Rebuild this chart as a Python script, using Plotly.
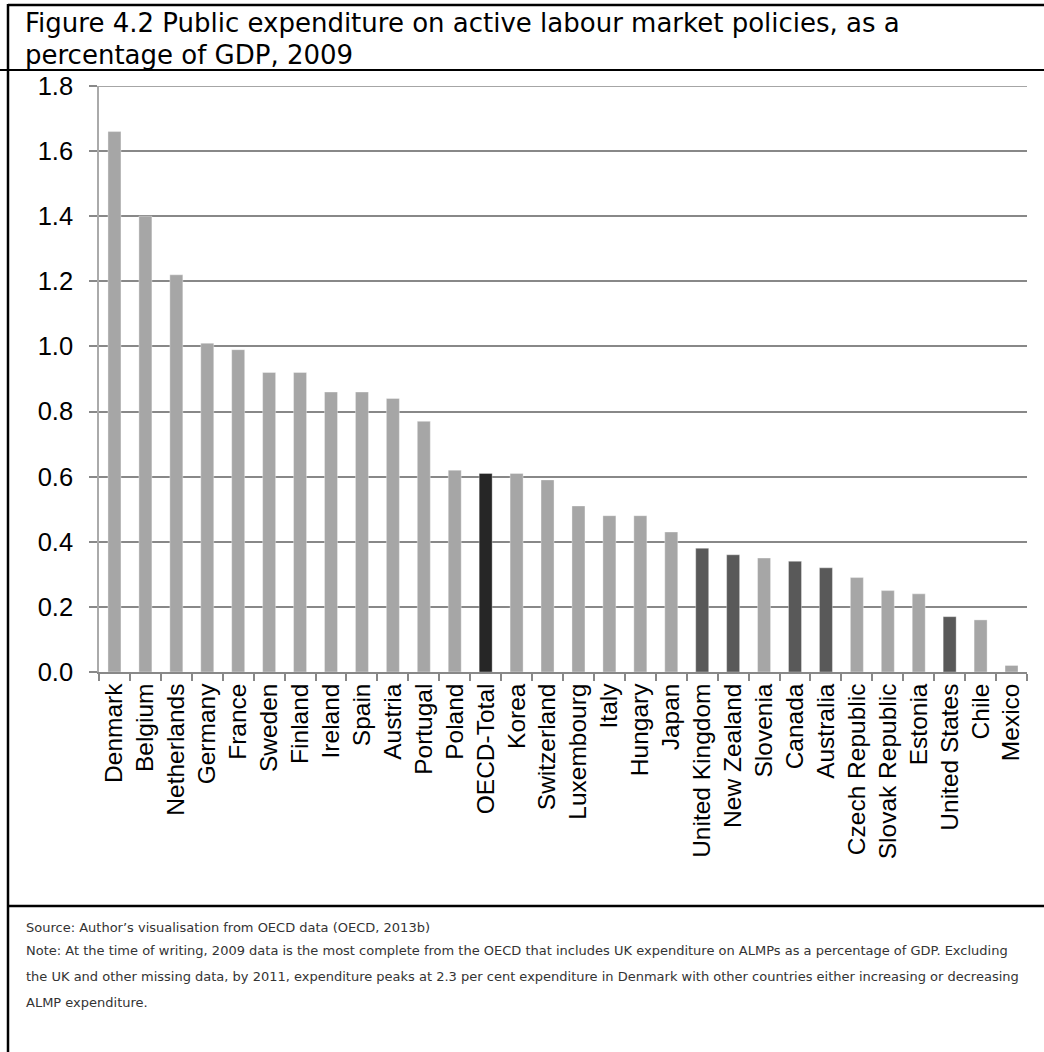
import plotly.graph_objects as go

countries = ["Denmark", "Belgium", "Netherlands", "Germany", "France", "Sweden", "Finland",
             "Ireland", "Spain", "Austria", "Portugal", "Poland", "OECD-Total", "Korea",
             "Switzerland", "Luxembourg", "Italy", "Hungary", "Japan", "United Kingdom",
             "New Zealand", "Slovenia", "Canada", "Australia", "Czech Republic",
             "Slovak Republic", "Estonia", "United States", "Chile", "Mexico"]
values = [1.66, 1.40, 1.22, 1.01, 0.99, 0.92, 0.92, 0.86, 0.86, 0.84, 0.77, 0.62, 0.61, 0.61,
          0.59, 0.51, 0.48, 0.48, 0.43, 0.38, 0.36, 0.35, 0.34, 0.32, 0.29, 0.25, 0.24, 0.17,
          0.16, 0.02]
oecd_total = ["OECD-Total"]
highlighted = ["United Kingdom", "New Zealand", "Canada", "Australia", "United States"]

y_ticks = [0.0, 0.2, 0.4, 0.6, 0.8, 1.0, 1.2, 1.4, 1.6, 1.8]
y_tick_text = ["0.0", "0.2", "0.4", "0.6", "0.8", "1.0", "1.2", "1.4", "1.6", "1.8"]

title_lines = ["Figure 4.2 Public expenditure on active labour market policies, as a",
               "percentage of GDP, 2009"]
source_text = "Source: Author\u2019s visualisation from OECD data (OECD, 2013b)"
note_lines = [
    "Note: At the time of writing, 2009 data is the most complete from the OECD that includes UK expenditure on ALMPs as a percentage of GDP. Excluding",
    "the UK and other missing data, by 2011, expenditure peaks at 2.3 per cent expenditure in Denmark with other countries either increasing or decreasing",
    "ALMP expenditure.",
]

colors = []
for c in countries:
    if c in oecd_total:
        colors.append("#262626")
    elif c in highlighted:
        colors.append("#595959")
    else:
        colors.append("#A6A6A6")

W, H = 1044, 1052
L, R, T, B = 99, 1027, 86, 672  # plot area in pixels


def px(x):
    return (x - L) / (R - L)


def py(y):
    return (B - y) / (B - T)


fig = go.Figure()
fig.add_trace(go.Bar(
    x=countries, y=values,
    marker=dict(color=colors, line=dict(color="rgba(255,255,255,0.35)", width=1)),
    hoverinfo="x+y",
))

shapes = [
    # top border
    dict(type="line", xref="paper", yref="paper", x0=px(8), x1=px(1044), y0=py(5), y1=py(5),
         line=dict(color="black", width=2.5)),
    # line under title
    dict(type="line", xref="paper", yref="paper", x0=px(0), x1=px(1044), y0=py(70), y1=py(70),
         line=dict(color="black", width=2)),
    # line above notes
    dict(type="line", xref="paper", yref="paper", x0=px(8), x1=px(1044), y0=py(906), y1=py(906),
         line=dict(color="black", width=2.5)),
    # left border
    dict(type="line", xref="paper", yref="paper", x0=px(8), x1=px(8), y0=py(4), y1=py(1052),
         line=dict(color="black", width=2.5)),
    # top gridline at 1.8
    dict(type="line", xref="paper", yref="y", x0=0, x1=1, y0=1.8, y1=1.8,
         line=dict(color="#888888", width=1.5), layer="below"),
]

annotations = []
for i, t in enumerate(title_lines):
    annotations.append(dict(
        text=t, xref="paper", yref="paper", x=px(23), y=py(23 + i * 32),
        xanchor="left", yanchor="middle", showarrow=False,
        font=dict(family="DejaVu Sans, sans-serif", size=26, color="#000000"),
    ))
annotations.append(dict(
    text=source_text, xref="paper", yref="paper", x=px(24), y=py(927),
    xanchor="left", yanchor="middle", showarrow=False,
    font=dict(family="DejaVu Sans, sans-serif", size=13, color="#333333"),
))
for i, t in enumerate(note_lines):
    annotations.append(dict(
        text=t, xref="paper", yref="paper", x=px(24), y=py(951 + i * 25.5),
        xanchor="left", yanchor="middle", showarrow=False,
        font=dict(family="DejaVu Sans, sans-serif", size=13, color="#333333"),
    ))

fig.update_layout(
    width=W, height=H,
    margin=dict(l=L, r=W - R, t=T, b=H - B, pad=0),
    paper_bgcolor="white", plot_bgcolor="white",
    bargap=0.58,
    showlegend=False,
    shapes=shapes,
    annotations=annotations,
    font=dict(family="Liberation Sans, Arial, sans-serif", color="#000000"),
    xaxis=dict(
        type="category", tickangle=-90,
        tickfont=dict(family="Liberation Sans, Arial, sans-serif", size=24.5, color="#000000"),
        showline=True, linecolor="#888888", linewidth=1.5,
        ticks="outside", tickson="boundaries", ticklen=7, tickcolor="#888888", tickwidth=1.5,
        showgrid=False, range=[-0.5, len(countries) - 0.5],
    ),
    yaxis=dict(
        range=[0, 1.8], tickvals=y_ticks, ticktext=y_tick_text,
        tickfont=dict(family="Liberation Sans, Arial, sans-serif", size=25.5, color="#000000"),
        showgrid=True, gridcolor="#888888", gridwidth=1.5,
        showline=True, linecolor="#AAAAAA", linewidth=1.5,
        ticks="outside", ticklen=8, tickcolor="#888888", tickwidth=1.5,
        zeroline=False, ticklabelstandoff=11,
    ),
)

fig.write_html("out.html")
